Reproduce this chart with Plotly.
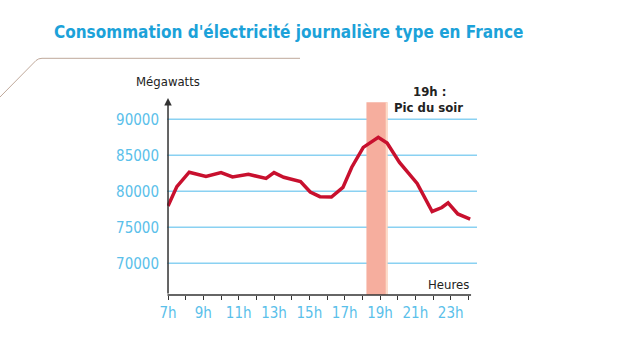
import plotly.graph_objects as go

# Typical daily electricity load in France (hour of day, MW)
hours = [7.0, 7.5, 8.2, 9.15, 10.0, 10.65, 11.55, 12.55, 13.0, 13.55, 14.5, 15.05,
         15.6, 16.25, 16.9, 17.4, 18.05, 18.9, 19.4, 20.1, 21.1, 21.95, 22.5, 22.85,
         23.4, 24.1]
megawatts = [77950, 80650, 82650, 82050, 82600, 82000, 82350, 81800, 82600, 81950,
             81350, 79900, 79250, 79200, 80550, 83350, 86100, 87500, 86700, 84000,
             81100, 77200, 77750, 78400, 76850, 76150]

x_tick_vals = list(range(7, 25))
x_tick_text = [f"{h}h" if h % 2 == 1 else "" for h in x_tick_vals]
y_tick_vals = [70000, 75000, 80000, 85000, 90000]
y_tick_text = ["70000", "75000", "80000", "85000", "90000"]

peak_band = (18.23, 19.42)
peak_band_top = 92360

X_RANGE = [6.943, 24.487]
Y_RANGE = [65597, 93236]

# page geometry (pixels) used for decorations outside the plot area
W, H = 620, 340
ML, MR, MT, MB = 167, 143, 96, 45
PW, PH = W - ML - MR, H - MT - MB


def px(xp):
    return (xp - ML) / PW


def py(yp):
    return (H - MB - yp) / PH


TICK_FONT = dict(family="DejaVu Sans Condensed, Open Sans, sans-serif", size=15,
                 color="#5ac0ea")
TEXT_FONT = "DejaVu Sans Condensed, Open Sans, sans-serif"
GRID_COLOR = "#8ad1f2"

fig = go.Figure()
fig.add_trace(go.Scatter(
    x=hours, y=megawatts, mode="lines",
    line=dict(color="#c8102e", width=3.5),
    hoverinfo="skip", showlegend=False,
))

shapes = [
    # evening peak band
    dict(type="rect", xref="x", yref="y", x0=peak_band[0], x1=peak_band[1],
         y0=Y_RANGE[0], y1=peak_band_top, fillcolor="#f6ae9e",
         line=dict(width=0), layer="below"),
    dict(type="rect", xref="x", yref="y", x0=peak_band[1] - 0.1, x1=peak_band[1],
         y0=Y_RANGE[0], y1=peak_band_top, fillcolor="#fcdcc8",
         line=dict(width=0), layer="below"),
]
# horizontal guide lines at each labelled value
for v in y_tick_vals:
    shapes.append(dict(type="line", xref="paper", yref="y", x0=0, x1=1, y0=v, y1=v,
                       line=dict(color=GRID_COLOR, width=1.6), layer="between"))
shapes += [
    # horizontal axis line
    dict(type="line", xref="x", yref="paper", x0=6.97, x1=24.15, y0=0, y1=0,
         line=dict(color="#333333", width=1.5)),
    # decorative header rule
    dict(type="path", xref="paper", yref="paper",
         path=(f"M {px(0)},{py(97)} L {px(36)},{py(60.5)} "
               f"Q {px(38.5)},{py(58.3)} {px(42)},{py(58.3)} L {px(300)},{py(58.3)}"),
         line=dict(color="#bfa89a", width=1)),
]

annotations = [
    dict(text="<b>Consommation d'électricité journalière type en France</b>",
         xref="paper", yref="paper", x=px(52), y=py(32), xanchor="left",
         yanchor="middle", showarrow=False,
         font=dict(family=TEXT_FONT, size=17, color="#1ca2d9")),
    dict(text="Mégawatts", xref="paper", yref="paper", x=px(167.5), y=py(82),
         xanchor="center", yanchor="middle", showarrow=False,
         font=dict(family=TEXT_FONT, size=13, color="#222222")),
    dict(text="Heures", xref="paper", yref="paper", x=px(471), y=py(284),
         xanchor="right", yanchor="middle", showarrow=False,
         font=dict(family=TEXT_FONT, size=13, color="#222222")),
    dict(text="<b>19h :</b>", xref="paper", yref="paper", x=px(429), y=py(92),
         xanchor="center", yanchor="middle", showarrow=False,
         font=dict(family=TEXT_FONT, size=13, color="#222222")),
    dict(text="<b>Pic du soir</b>", xref="paper", yref="paper", x=px(428), y=py(107),
         xanchor="center", yanchor="middle", showarrow=False,
         font=dict(family=TEXT_FONT, size=13, color="#222222")),
    # vertical axis with arrow head
    dict(text="", xref="x", yref="y", x=7, y=92958, axref="x", ayref="y",
         ax=7, ay=Y_RANGE[0], showarrow=True, arrowhead=2, arrowsize=1,
         arrowwidth=1.5, arrowcolor="#333333", standoff=0, startstandoff=0),
]

fig.update_layout(
    width=W, height=H,
    margin=dict(l=ML, r=MR, t=MT, b=MB, pad=0),
    paper_bgcolor="white", plot_bgcolor="white",
    shapes=shapes, annotations=annotations,
    xaxis=dict(range=X_RANGE, tickvals=x_tick_vals, ticktext=x_tick_text,
               ticks="outside", ticklen=4, tickwidth=1.3, tickcolor="#333333",
               showgrid=False, zeroline=False, showline=False,
               tickfont=TICK_FONT, fixedrange=True),
    yaxis=dict(range=Y_RANGE, tickvals=y_tick_vals, ticktext=y_tick_text,
               ticks="", showgrid=False,
               zeroline=False, showline=False, ticklabelstandoff=7,
               tickfont=TICK_FONT, fixedrange=True),
    showlegend=False,
)

fig.write_html("out.html", config={"displayModeBar": False})
